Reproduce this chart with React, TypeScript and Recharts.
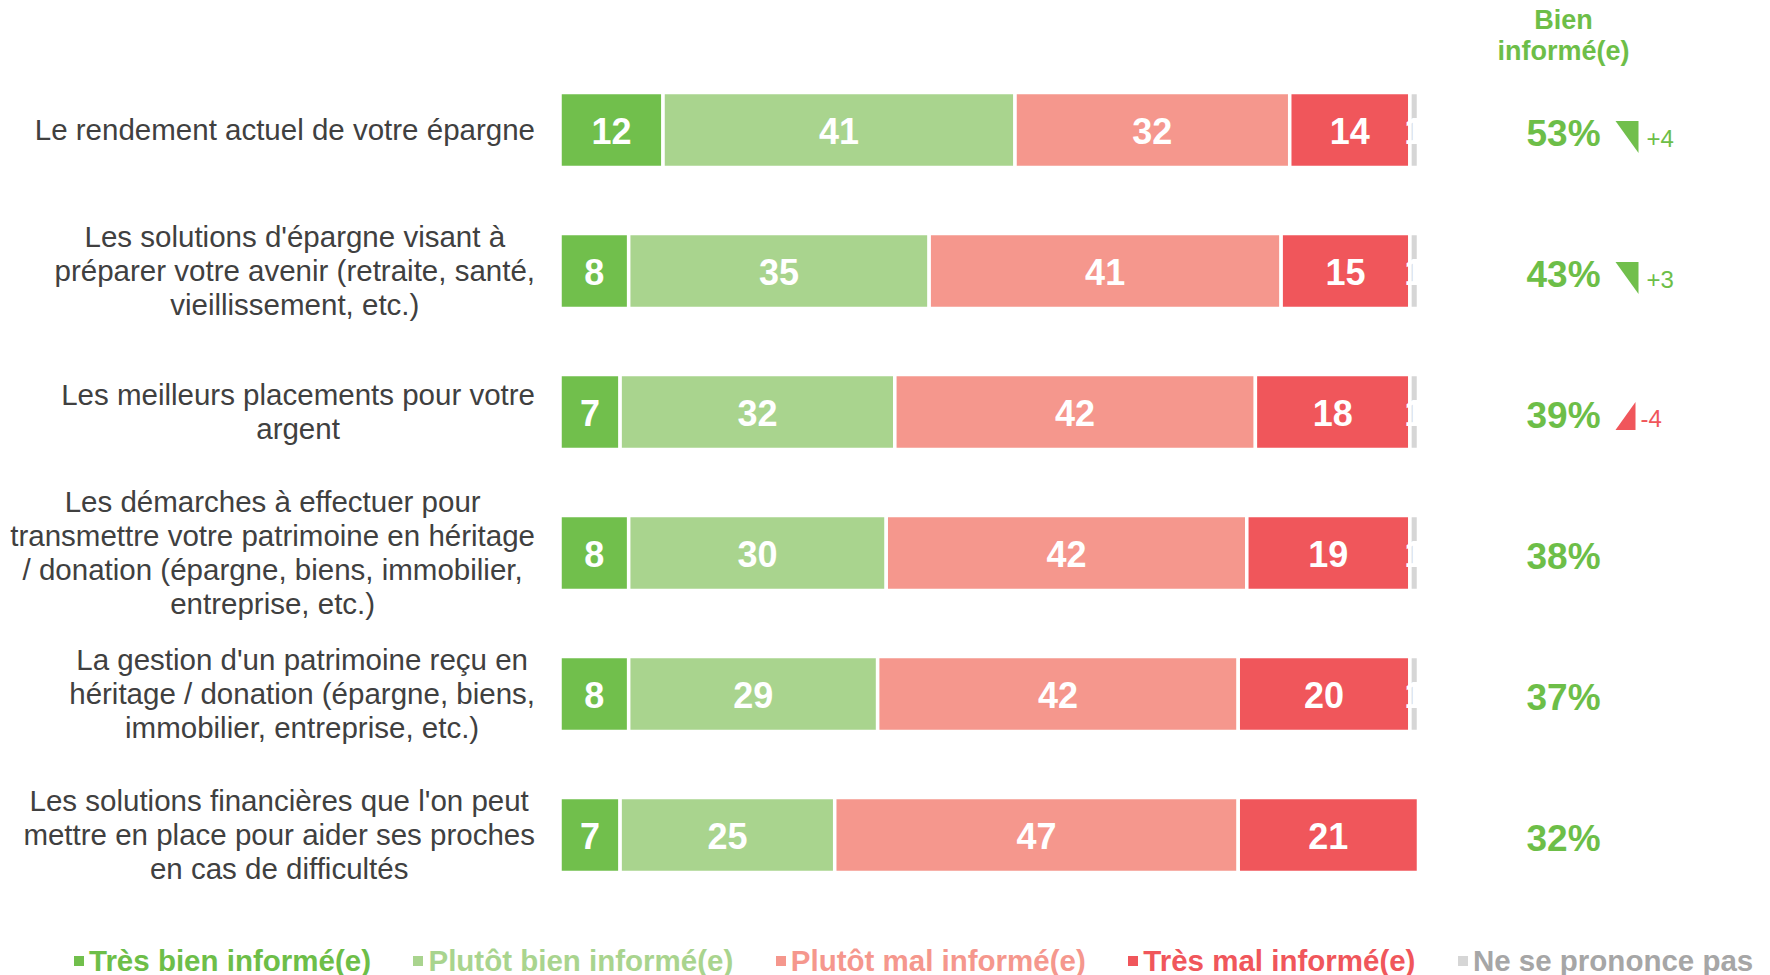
import React from 'react'
import { BarChart, Bar, XAxis, YAxis, LabelList, Customized } from 'recharts'

const W = 1770
const H = 975
const FONT = '"Liberation Sans", Arial, Helvetica, sans-serif'
const TEXT = '#404040'

// chart frame
const MARGIN = { top: 59.5, right: 351.5, bottom: 69.5, left: 0 }
const PLOT_RIGHT = W - MARGIN.right
const COL_X = PLOT_RIGHT + 145 // centre of the "Bien informé(e)" column

// categories, one entry per row, plus the way each is broken over lines
const categoryLines = [
  ['Le rendement actuel de votre épargne'],
  ["Les solutions d'épargne visant à", 'préparer votre avenir (retraite, santé,', 'vieillissement, etc.)'],
  ['Les meilleurs placements pour votre', 'argent'],
  [
    'Les démarches à effectuer pour',
    'transmettre votre patrimoine en héritage',
    '/ donation (épargne, biens, immobilier,',
    'entreprise, etc.)',
  ],
  ["La gestion d'un patrimoine reçu en", 'héritage / donation (épargne, biens,', 'immobilier, entreprise, etc.)'],
  ["Les solutions financières que l'on peut", 'mettre en place pour aider ses proches', 'en cas de difficultés'],
]
const categories = categoryLines.map((l) => l.join(' '))

const tresBien = [12, 8, 7, 8, 8, 7]
const plutotBien = [41, 35, 32, 30, 29, 25]
const plutotMal = [32, 41, 42, 42, 42, 47]
const tresMal = [14, 15, 18, 19, 20, 21]
const nsp = [1, 1, 1, 1, 1, 0]

const bienInforme = [53, 43, 39, 38, 37, 32]
const evolution: (number | null)[] = [4, 3, -4, null, null, null]

const GREEN = '#71BF4C'
const GREEN_TXT = '#6DBE48'
const RED = '#F0565B'

const series = [
  { key: 'tresBien', name: 'Très bien informé(e)', color: GREEN, text: GREEN_TXT },
  { key: 'plutotBien', name: 'Plutôt bien informé(e)', color: '#A9D48E', text: '#A9D48E' },
  { key: 'plutotMal', name: 'Plutôt mal informé(e)', color: '#F5978D', text: '#F5978D' },
  { key: 'tresMal', name: 'Très mal informé(e)', color: RED, text: RED },
  { key: 'nsp', name: 'Ne se prononce pas', color: '#D6D6D6', text: '#A6A6A6' },
]

const data = categories.map((label, i) => ({
  label,
  tresBien: tresBien[i],
  plutotBien: plutotBien[i],
  plutotMal: plutotMal[i],
  tresMal: tresMal[i],
  nsp: nsp[i],
}))

const LABEL_SIZE = 29.5

let ctx: CanvasRenderingContext2D | null = null
function textWidth(s: string, size: number) {
  if (!ctx) ctx = document.createElement('canvas').getContext('2d')
  if (!ctx) return s.length * size * 0.5
  ctx.font = `${size}px ${FONT}`
  return ctx.measureText(s).width
}

// text box right-aligned on the axis, lines centred inside it
function CategoryTick(props: any) {
  const { x, y, payload } = props
  const i = categories.indexOf(payload.value)
  const lines = categoryLines[i] ?? [payload.value]
  const maxW = Math.max(...lines.map((l) => textWidth(l, LABEL_SIZE)))
  const cx = Number(x) - maxW / 2
  const n = lines.length
  return (
    <g>
      {lines.map((l, k) => (
        <text
          key={k}
          x={cx}
          y={Number(y) + 10 + (k - (n - 1) / 2) * 34}
          textAnchor="middle"
          fontSize={LABEL_SIZE}
          fill={TEXT}
          fontFamily={FONT}
        >
          {l}
        </text>
      ))}
    </g>
  )
}

const segLabel = (props: any) => {
  const { x, y, width, height, value } = props
  if (!value) return null
  return (
    <text
      x={Number(x) + Number(width) / 2}
      y={Number(y) + Number(height) / 2 + 14}
      textAnchor="middle"
      fill="#fff"
      fontSize={36}
      fontWeight="bold"
      fontFamily={FONT}
    >
      {value}
    </text>
  )
}

// "Bien informé(e)" column with the evolution marker
const rightLabel = (props: any) => {
  const { y, height, value } = props
  const i = categories.indexOf(value)
  if (i < 0) return null
  const cx = COL_X
  const cy = Number(y) + Number(height) / 2
  const ev = evolution[i]
  const tx = cx + 52
  return (
    <g>
      <text x={cx} y={cy + 16} textAnchor="middle" fill={GREEN_TXT} fontSize={37} fontWeight="bold" fontFamily={FONT}>
        {bienInforme[i]}%
      </text>
      {ev != null && ev > 0 && (
        <g>
          <polygon points={`${tx},${cy - 9} ${tx + 23},${cy - 9} ${tx + 23},${cy + 23}`} fill={GREEN} />
          <text x={tx + 31} y={cy + 17} fill={GREEN_TXT} fontSize={24} fontFamily={FONT}>
            +{ev}
          </text>
        </g>
      )}
      {ev != null && ev < 0 && (
        <g>
          <polygon points={`${tx + 20},${cy - 10} ${tx + 20},${cy + 18} ${tx},${cy + 18}`} fill={RED} />
          <text x={tx + 25} y={cy + 15} fill={RED} fontSize={24} fontFamily={FONT}>
            {ev}
          </text>
        </g>
      )}
    </g>
  )
}

const Header = () => (
  <g>
    <text x={COL_X} y={29} textAnchor="middle" fill={GREEN_TXT} fontSize={27} fontWeight="bold" fontFamily={FONT}>
      Bien
    </text>
    <text x={COL_X} y={60} textAnchor="middle" fill={GREEN_TXT} fontSize={27} fontWeight="bold" fontFamily={FONT}>
      informé(e)
    </text>
  </g>
)

export default function App() {
  return (
    <div style={{ position: 'absolute', left: 0, top: 0, width: W, height: H, background: '#fff', fontFamily: FONT }}>
      <BarChart width={W} height={H} data={data} layout="vertical" barSize={75} margin={MARGIN}>
        <XAxis type="number" domain={[0, 100]} hide />
        <YAxis
          type="category"
          dataKey="label"
          width={560}
          axisLine={false}
          tickLine={false}
          tickSize={0}
          tickMargin={25}
          interval={0}
          tick={(p: any) => <CategoryTick {...p} />}
        />
        {series.map((s) => (
          <Bar
            key={s.key}
            dataKey={s.key}
            name={s.name}
            stackId="a"
            fill={s.color}
            stroke="#fff"
            strokeWidth={3.5}
            isAnimationActive={false}
          >
            <LabelList dataKey={s.key} content={segLabel} />
            {s.key === 'tresBien' && <LabelList dataKey="label" content={rightLabel} />}
          </Bar>
        ))}
        <Customized component={Header} />
      </BarChart>

      <div
        style={{
          position: 'absolute',
          left: 74,
          top: 944,
          display: 'flex',
          alignItems: 'center',
          gap: 42.5,
          fontSize: 29.5,
          lineHeight: '34px',
          fontWeight: 'bold',
          whiteSpace: 'nowrap',
        }}
      >
        {series.map((s) => (
          <div key={s.key} style={{ display: 'flex', alignItems: 'center', color: s.text }}>
            <span style={{ display: 'inline-block', width: 10, height: 10, background: s.color, marginRight: 5 }} />
            {s.name}
          </div>
        ))}
      </div>
    </div>
  )
}
